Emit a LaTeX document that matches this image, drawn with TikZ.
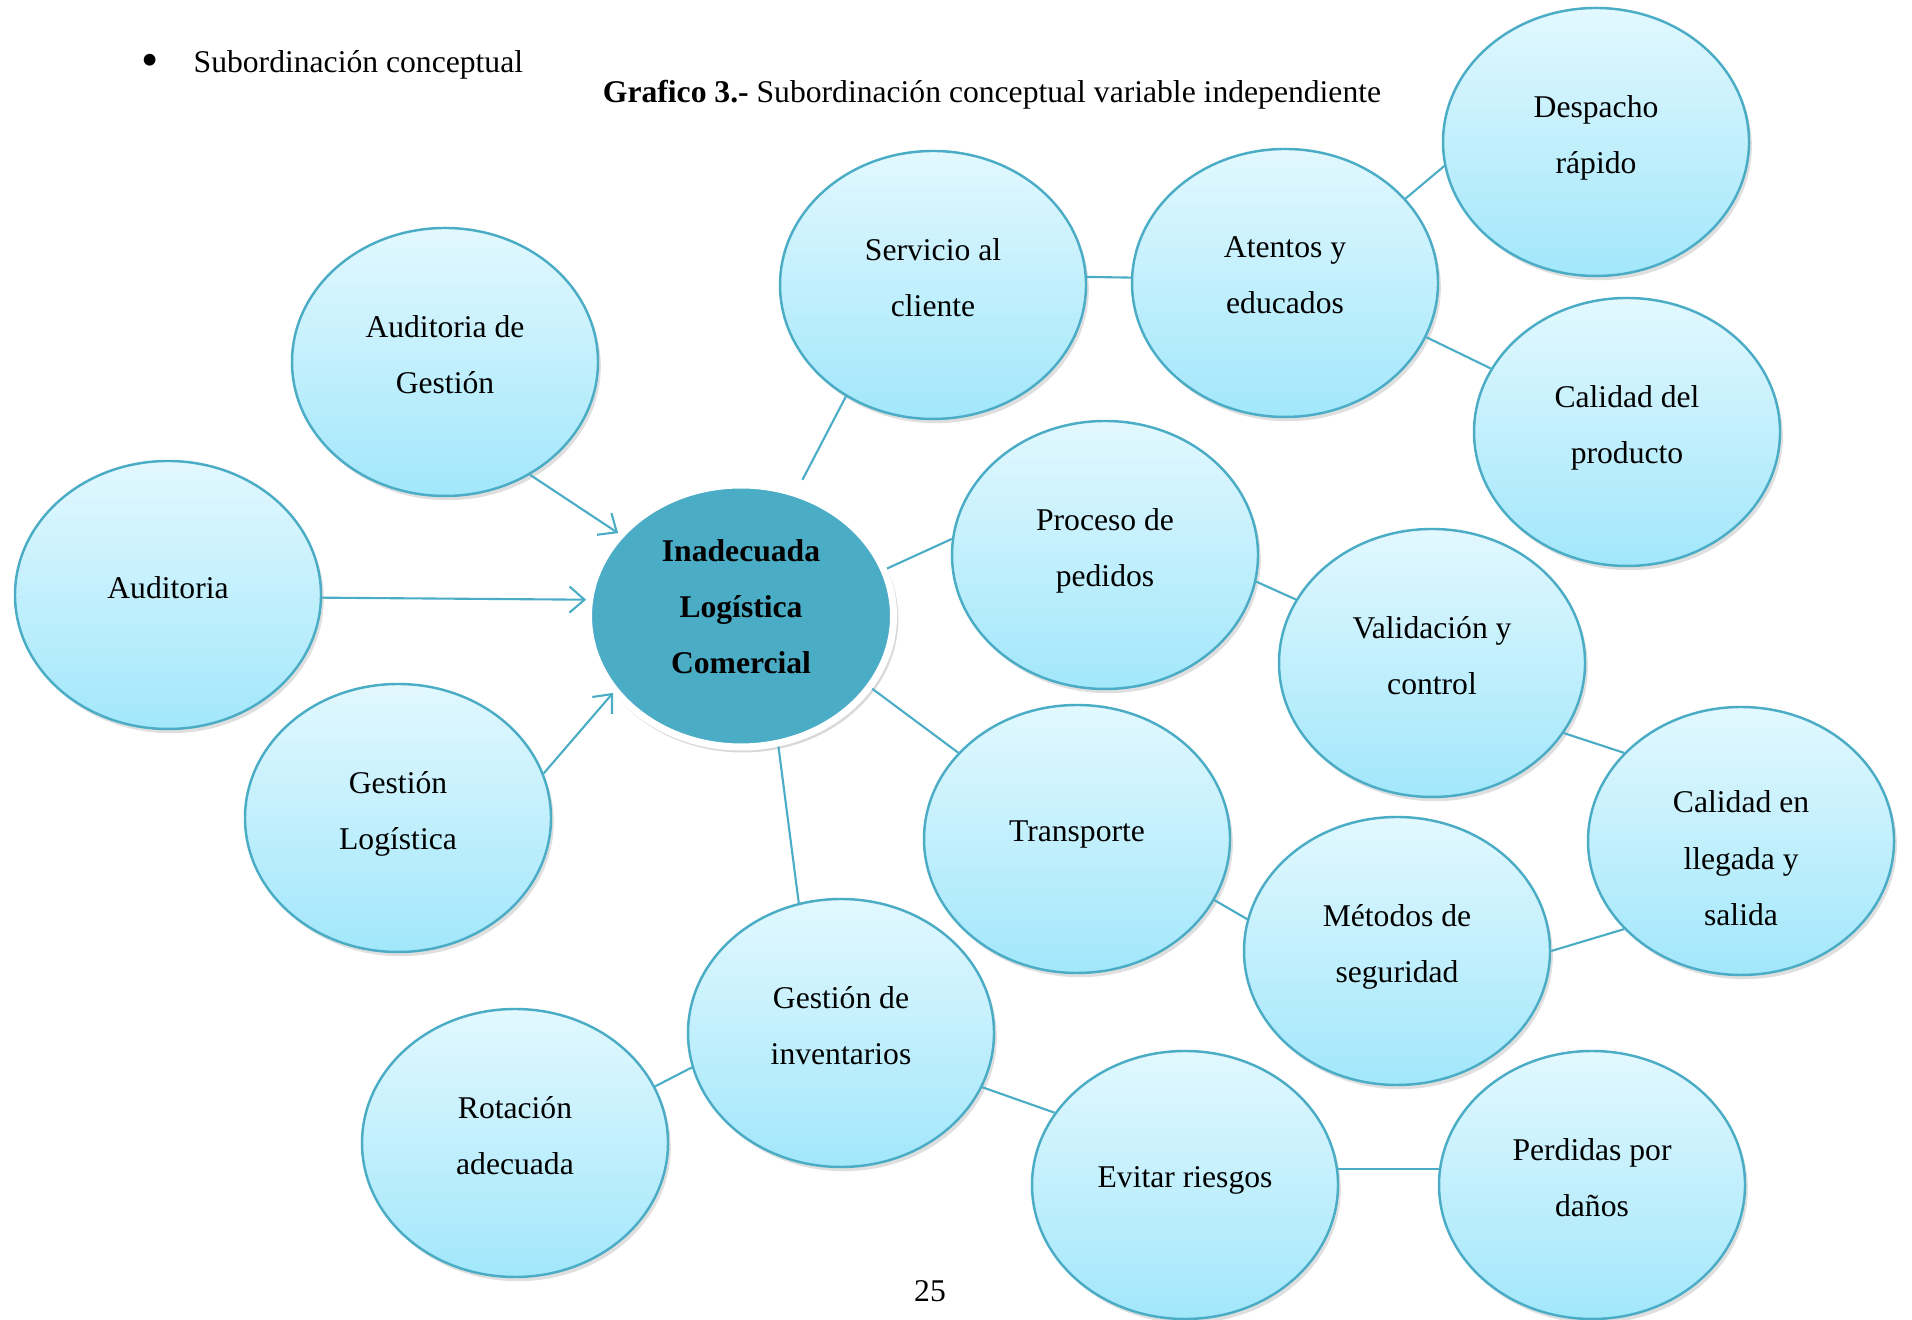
\documentclass[tikz,border=0pt]{standalone}
\usepackage{fontspec}
\setmainfont{Liberation Serif}
\usetikzlibrary{arrows.meta}
\usetikzlibrary{shapes.geometric}
\usetikzlibrary{shadows}
\definecolor{azulborde}{HTML}{4BACC6}
\definecolor{celestearriba}{HTML}{E2F8FE}
\definecolor{celesteabajo}{HTML}{A2E7FB}
\begin{document}
\begin{tikzpicture}[
    font=\fontsize{9}{16}\selectfont,
    burbuja/.style={ellipse,draw=azulborde,line width=0.7pt,top color=celestearriba,bottom color=celesteabajo,
        minimum width=3.06cm,minimum height=2.68cm,inner sep=0pt,align=center,text depth=4.3pt,
        drop shadow={shadow xshift=0.8pt,shadow yshift=-1.2pt,opacity=0.25}},
    centro/.style={ellipse,draw=white,line width=2pt,fill=azulborde,minimum width=3.05cm,minimum height=2.62cm,
        inner sep=0pt,align=center,text depth=5.5pt,font=\fontsize{9}{16}\selectfont\bfseries,
        drop shadow={shadow xshift=0.5pt,shadow yshift=-0.8pt,opacity=0.3,shadow scale=1.02}},
    linea/.style={draw=azulborde,line width=0.6pt},
    flecha/.style={linea,-{Straight Barb[length=1.5mm,width=2.6mm]}}
]
    \useasboundingbox (0,0) rectangle (19.12,13.2);

    \node (vineta) at (1.50,12.55) {\fontsize{14}{14}\selectfont\textbullet};
    \node[anchor=west,inner sep=0pt] (subord) at (1.93,12.55) {Subordinación conceptual};
    \node (titulo) at (9.92,12.25) {\textbf{Grafico 3.-} Subordinación conceptual variable independiente};
    \node (pagina) at (9.30,0.29) {25};

    \node[burbuja] (desp) at (15.96,11.78) {Despacho\\rápido};
    \node[burbuja] (serv) at (9.33,10.35) {Servicio al\\cliente};
    \node[burbuja] (aten) at (12.85,10.37) {Atentos y\\educados};
    \node[burbuja] (audges) at (4.45,9.58) {Auditoria de\\Gestión};
    \node[burbuja] (calprod) at (16.27,8.88) {Calidad del\\producto};
    \node[burbuja] (proc) at (11.05,7.65) {Proceso de\\pedidos};
    \node[burbuja] (aud) at (1.68,7.25) {Auditoria};
    \node[centro] (cen) at (7.41,7.04) {Inadecuada\\Logística\\Comercial};
    \node[burbuja] (valid) at (14.32,6.57) {Validación y\\control};
    \node[burbuja] (geslog) at (3.98,5.02) {Gestión\\Logística};
    \node[burbuja,text height=50pt,text depth=2pt] (callleg) at (17.41,4.79) {Calidad en\\llegada y\\salida};
    \node[burbuja] (transp) at (10.77,4.81) {Transporte};
    \node[burbuja] (metseg) at (13.97,3.69) {Métodos de\\seguridad};
    \node[burbuja] (gesinv) at (8.41,2.87) {Gestión de\\inventarios};
    \node[burbuja] (rot) at (5.15,1.77) {Rotación\\adecuada};
    \node[burbuja] (evit) at (11.85,1.35) {Evitar riesgos};
    \node[burbuja] (perd) at (15.92,1.35) {Perdidas por\\daños};

    \draw[flecha] (audges.-53) -- (cen.146);
    \draw[flecha] (aud.-1) -- (cen.174);
    \draw[flecha] (geslog.17) -- (cen.-149);

    \draw[linea,shorten <=0.12cm] (cen.66) -- (serv.232);
    \draw[linea] (serv.3) -- (aten.178);
    \draw[linea] (aten.35) -- (desp.-171);
    \draw[linea] (aten.-21) -- (calprod.155);
    \draw[linea] (cen.18) -- (proc.174);
    \draw[linea] (proc.-10) -- (valid.155);
    \draw[linea] (valid.-28) -- (callleg.143);
    \draw[linea] (cen.-29) -- (transp.144);
    \draw[linea] (transp.-24) -- (metseg.168);
    \draw[linea] (metseg.0) -- (callleg.-143);
    \draw[linea] (cen.-74) -- (gesinv.108);
    \draw[linea] (gesinv.193) -- (rot.22);
    \draw[linea] (gesinv.-21) -- (evit.151);
    \draw[linea] (evit.6) -- (perd.174);
\end{tikzpicture}
\end{document}
